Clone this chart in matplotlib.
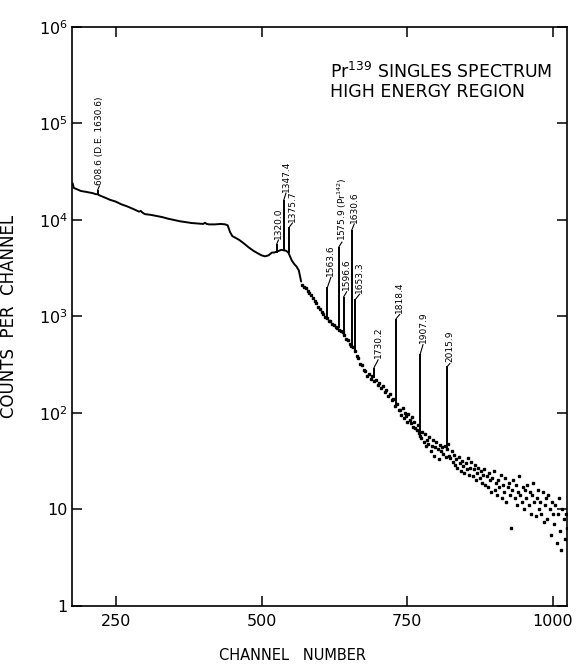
import numpy as np
import matplotlib
matplotlib.use("Agg")
import matplotlib.pyplot as plt

# smooth part of the spectrum (channel, counts)
cont_ch = [176, 178, 182, 190, 200, 210, 216, 219, 222, 230, 240, 250, 260, 270,
           280, 290, 293, 296, 300, 310, 320, 330, 340, 350, 360, 370, 380, 390,
           400, 403, 406, 410, 420, 430, 438, 442, 446, 450, 456, 462, 470, 478,
           486, 494, 500, 506, 512, 518, 522, 530, 534, 542, 546, 552, 556, 560,
           564, 568]
cont_counts = [2.4e4, 2.15e4, 2.1e4, 2.0e4, 1.95e4, 1.9e4, 1.85e4, 1.85e4, 1.8e4,
               1.72e4, 1.62e4, 1.55e4, 1.45e4, 1.38e4, 1.3e4, 1.22e4, 1.24e4,
               1.19e4, 1.15e4, 1.13e4, 1.1e4, 1.07e4, 1.03e4, 1.0e4, 9.7e3, 9.5e3,
               9.3e3, 9.2e3, 9.1e3, 9.35e3, 9.1e3, 9.0e3, 9.0e3, 9.1e3, 9.0e3,
               8.8e3, 7.5e3, 6.8e3, 6.5e3, 6.2e3, 5.7e3, 5.2e3, 4.8e3, 4.5e3,
               4.3e3, 4.2e3, 4.3e3, 4.6e3, 4.6e3, 4.8e3, 4.9e3, 4.8e3, 4.6e3,
               3.8e3, 3.5e3, 3.3e3, 3.0e3, 2.3e3]

# region below the Compton drop, drawn as dots
mid_ch = [570, 573, 576, 579, 582, 585, 588, 591, 594, 597, 600, 603, 606, 609,
          612, 615, 618, 621, 624, 627, 630, 633, 636, 639, 642, 645, 648, 651,
          654, 657, 660, 663, 666, 669, 672, 675, 678, 681, 684, 687, 690, 693,
          696, 699, 702, 705, 708, 711, 714, 717, 720, 723, 726, 729, 732, 735]
mid_counts = [2.1e3, 2.0e3, 1.95e3, 1.85e3, 1.75e3, 1.68e3, 1.55e3, 1.45e3,
              1.38e3, 1.25e3, 1.2e3, 1.1e3, 1.06e3, 990, 960, 900, 890, 840,
              820, 770, 760, 720, 700, 690, 640, 590, 570, 520, 500, 480, 440,
              390, 370, 320, 315, 280, 270, 240, 255, 225, 240, 215, 220, 195,
              205, 180, 190, 165, 175, 150, 158, 135, 140, 118, 125, 108]

# scattered high-channel tail, every second channel from 738 to 1024
tail_ch = np.arange(738, 1025, 2)
tail_counts = [108, 95, 112, 88, 100, 92, 80, 97, 85, 78, 90, 72,
               80, 70, 66, 75, 62, 58, 55, 64, 50, 60, 45, 52,
               48, 56, 40, 46, 52, 36, 44, 50, 42, 33, 47, 40,
               44, 38, 46, 35, 42, 48, 36, 34, 40, 31, 37, 29,
               33, 27, 35, 30, 25, 32, 28, 24, 30, 26, 34, 23,
               27, 31, 22, 26, 29, 20, 24, 27, 21, 25, 19, 23,
               26, 18, 22, 17, 24, 20, 15, 21, 25, 16, 19, 14,
               20, 17, 23, 13, 18, 15, 21, 12, 17, 19, 14, 6.5,
               16, 20, 13, 18, 11, 15, 22, 14, 12, 17, 10, 16,
               13, 18, 11, 15, 9, 14, 19, 12, 8.5, 13, 16, 10,
               12, 9, 15, 7.5, 11, 13, 8, 14, 10, 5.5, 12, 9,
               7, 11, 4.5, 9, 13, 6, 3.8, 10, 8, 5, 9, 6.5]

# photopeaks: channel, continuum under the peak, peak height
peak_ch = [219, 526, 538, 548, 613, 633, 641, 655, 661, 693, 731, 772, 819]
peak_base = [1.8e4, 4.6e3, 4.9e3, 4.6e3, 930, 760, 650, 500, 430, 230, 115, 60, 40]
peak_top = [2.05e4, 5.6e3, 1.6e4, 8.5e3, 2.0e3, 5.3e3, 1.6e3, 7.9e3, 1.5e3,
            295, 950, 405, 305]
peak_labels = ["608.6 (D.E. 1630.6)", "1320.0", "1347.4", "1375.7", "1563.6",
               r"1575.9 (Pr$^{142}$)", "1596.6", "1630.6", "1653.3", "1730.2",
               "1818.4", "1907.9", "2015.9"]
label_x = [222, 529, 542, 553, 619, 638, 646, 659, 668, 700, 737, 777, 823]
label_y = [2.25e4, 6.2e3, 1.9e4, 9.3e3, 2.55e3, 5.9e3, 1.8e3, 9.1e3, 1.7e3,
           355, 1050, 510, 325]

y_ticks = [1, 10, 1e2, 1e3, 1e4, 1e5, 1e6]
y_ticklabels = ["1", "10", r"$10^2$", r"$10^3$", r"$10^4$", r"$10^5$", r"$10^6$"]
x_ticks = [250, 500, 750, 1000]

plt.rcParams["font.family"] = ["DejaVu Sans"]
plt.rcParams["mathtext.fontset"] = "dejavusans"

fig = plt.figure(figsize=(5.78, 6.71), dpi=100)
ax = fig.add_axes([0.1246, 0.0969, 0.8564, 0.8629])

ax.plot(cont_ch, cont_counts, color="black", lw=1.4, solid_capstyle="round")
ax.plot(mid_ch, mid_counts, ls="none", marker="s", ms=1.9, color="black")
ax.plot(tail_ch, tail_counts, ls="none", marker="s", ms=1.6, color="black")

ax.vlines(peak_ch, peak_base, peak_top, color="black", lw=1.4)
for ch, top, lx, ly, lab in zip(peak_ch, peak_top, label_x, label_y, peak_labels):
    ax.plot([ch, lx], [top, ly], color="black", lw=0.8)
    ax.annotate(lab, (lx, ly), xytext=(0, 1), textcoords="offset points",
                rotation=90, ha="center", va="bottom", fontsize=6.5,
                fontweight="medium")

ax.set_yscale("log")
ax.set_xlim(175, 1024)
ax.set_ylim(1, 1e6)
ax.set_yticks(y_ticks)
ax.set_yticklabels(y_ticklabels)
ax.set_xticks(x_ticks)
ax.set_xticklabels([str(t) for t in x_ticks])
ax.minorticks_off()
ax.tick_params(which="major", direction="in", length=7, width=1.1,
               top=True, right=True, labelsize=11.5, color="black")
ax.tick_params(axis="x", pad=6)
ax.tick_params(axis="y", pad=3)
for sp in ax.spines.values():
    sp.set_linewidth(1.2)

ax.set_ylabel("COUNTS  PER  CHANNEL", fontsize=12)
ax.yaxis.set_label_coords(-0.11, 0.5)
ax.set_xlabel("CHANNEL   NUMBER", fontsize=10.5)
ax.xaxis.set_label_coords(0.446, -0.072)

fig.text(0.571, 0.884, r"Pr$^{139}$ SINGLES SPECTRUM", fontsize=12.5, va="baseline")
fig.text(0.571, 0.855, "HIGH ENERGY REGION", fontsize=12.5, va="baseline")

fig.savefig("out.png", dpi=100, facecolor="white")
